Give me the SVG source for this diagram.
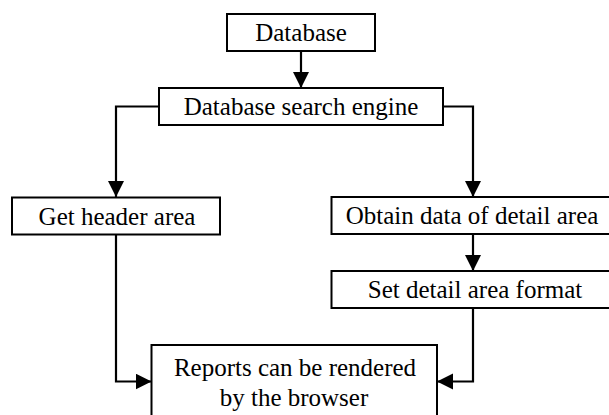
<svg xmlns="http://www.w3.org/2000/svg" width="609" height="415" viewBox="0 0 609 415">
<defs>
<style>
.box{fill:#fff;stroke:#000;stroke-width:2}
.lbl{font-family:"Liberation Serif","Times New Roman",serif;font-size:25px;fill:#000;text-anchor:middle}
.conn{fill:none;stroke:#000;stroke-width:2.2}
</style>
<marker id="arr" markerUnits="userSpaceOnUse" markerWidth="17" markerHeight="17" refX="16" refY="8" orient="auto" viewBox="0 0 17 17">
<path d="M0,0 L16,8 L0,16 z" fill="#000"/>
</marker>
</defs>
<rect width="609" height="415" fill="#fff"/>
<g id="connectors">
<path class="conn" d="M301,51 V88" marker-end="url(#arr)"/>
<path class="conn" d="M159,106.5 H116 V197" marker-end="url(#arr)"/>
<path class="conn" d="M443,106.5 H473 V197" marker-end="url(#arr)"/>
<path class="conn" d="M473,234 V271" marker-end="url(#arr)"/>
<path class="conn" d="M116,234.5 V381.5 H151.5" marker-end="url(#arr)"/>
<path class="conn" d="M473,308 V381.5 H437" marker-end="url(#arr)"/>
</g>
<g id="database">
<rect class="box" x="227" y="14" width="148" height="37"/>
<text class="lbl" x="301" y="41">Database</text>
</g>
<g id="search-engine">
<rect class="box" x="159" y="88" width="284" height="37"/>
<text class="lbl" x="301" y="115">Database search engine</text>
</g>
<g id="get-header">
<rect class="box" x="12" y="197.5" width="208" height="37"/>
<text class="lbl" x="117" y="224.5">Get header area</text>
</g>
<g id="obtain-data">
<rect class="box" x="331.5" y="197" width="290" height="37"/>
<text class="lbl" x="472" y="224">Obtain data of detail area</text>
</g>
<g id="set-format">
<rect class="box" x="331.5" y="271" width="290" height="37"/>
<text class="lbl" x="475" y="298">Set detail area format</text>
</g>
<g id="reports">
<rect class="box" x="151.5" y="345" width="285.5" height="80"/>
<text class="lbl" x="295" y="376">Reports can be rendered</text>
<text class="lbl" x="294" y="406">by the browser</text>
</g>
</svg>
